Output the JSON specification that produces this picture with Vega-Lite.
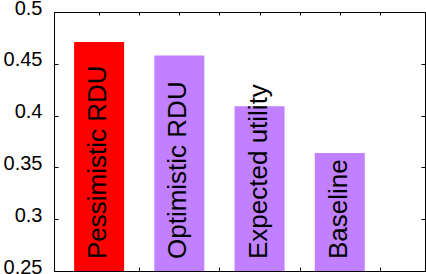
{
  "$schema": "https://vega.github.io/schema/vega-lite/v6.json",
  "width": 371,
  "height": 259,
  "autosize": {"type": "none"},
  "padding": {"left": 54, "top": 12, "right": 1, "bottom": 3},
  "config": {
    "view": {"stroke": "black", "strokeWidth": 1},
    "font": "Liberation Sans",
    "axis": {"domain": false, "grid": false, "tickColor": "black", "tickWidth": 1, "title": null}
  },
  "data": {
    "values": [
      {"method": "Pessimistic RDU", "index": 0, "value": 0.471},
      {"method": "Optimistic RDU", "index": 1, "value": 0.458},
      {"method": "Expected utility", "index": 2, "value": 0.409},
      {"method": "Baseline", "index": 3, "value": 0.364}
    ]
  },
  "layer": [
    {
      "mark": {"type": "bar", "width": 50},
      "encoding": {
        "x": {
          "field": "index", "type": "quantitative",
          "scale": {"domain": [-0.5, 4], "nice": false, "zero": false},
          "axis": {"orient": "bottom", "values": [0.5, 1.5, 2.5, 3.5], "labels": false, "tickSize": -4}
        },
        "y": {
          "field": "value", "type": "quantitative",
          "scale": {"domain": [0.25, 0.5], "nice": false, "zero": false},
          "axis": {
            "orient": "left", "values": [0.25, 0.3, 0.35, 0.4, 0.45, 0.5], "format": "~g",
            "tickSize": -4, "labelPadding": 16, "labelFontSize": 20, "labelColor": "black",
            "labelOffset": -4, "labelFont": "Liberation Sans"
          }
        },
        "y2": {"datum": 0.25},
        "color": {
          "field": "method", "type": "nominal",
          "scale": {
            "domain": ["Pessimistic RDU", "Optimistic RDU", "Expected utility", "Baseline"],
            "range": ["#ff0000", "#c080ff", "#c080ff", "#c080ff"]
          },
          "legend": null
        }
      }
    },
    {
      "mark": {"type": "text", "angle": 270, "align": "left", "baseline": "middle", "fontSize": 26, "dx": 12, "dy": -1, "color": "black", "font": "Liberation Sans"},
      "encoding": {
        "x": {
          "field": "index", "type": "quantitative",
          "axis": {"orient": "top", "values": [0, 0.5, 1, 1.5, 2, 2.5, 3, 3.5], "labels": false, "tickSize": -3}
        },
        "y": {
          "datum": 0.25, "type": "quantitative",
          "axis": {"orient": "right", "values": [0.25, 0.3, 0.35, 0.4, 0.45, 0.5], "labels": false, "tickSize": -4}
        },
        "text": {"field": "method"}
      }
    }
  ],
  "resolve": {"axis": {"x": "independent", "y": "independent"}}
}
